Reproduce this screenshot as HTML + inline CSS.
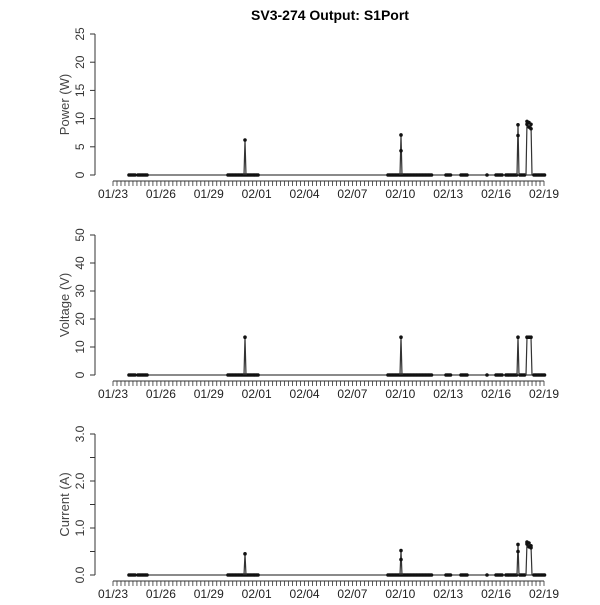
<!DOCTYPE html>
<html><head><meta charset="utf-8"><style>
body{margin:0;background:#fff}
svg text{font-family:"Liberation Sans",sans-serif}
</style></head><body>
<svg id="s" width="600" height="600" xmlns="http://www.w3.org/2000/svg">
<text x="330" y="20" font-size="14" font-weight="bold" text-anchor="middle">SV3-274 Output: S1Port</text>
</svg>
<script>
const s=document.getElementById('s');
const NS='http://www.w3.org/2000/svg';
function el(t,a,txt){const e=document.createElementNS(NS,t);for(const k in a)e.setAttribute(k,a[k]);if(txt!==undefined)e.textContent=txt;s.appendChild(e);return e;}
const panels=[
 {y0:175,y1:34,max:25,ticks:[0,5,10,15,20,25],lab:v=>String(v),minor:[],title:'Power (W)',ax:181,
  sp:[[518,[8.9,7.0]],[527,[9.5,9.0]],[529,[9.3,8.5]],[531,[9.0,8.2]]],s1:[[245,[6.2]],[401,[7.1,4.3]]]},
 {y0:375,y1:235,max:50,ticks:[0,10,20,30,40,50],lab:v=>String(v),minor:[],title:'Voltage (V)',ax:381,
  sp:[[518,[13.5]],[527,[13.5]],[529,[13.5]],[531,[13.5]]],s1:[[245,[13.5]],[401,[13.5]]]},
 {y0:575,y1:434,max:3,ticks:[0,1,2,3],lab:v=>v.toFixed(1),minor:[0.5,1.5,2.5],title:'Current (A)',ax:581,
  sp:[[518,[0.65,0.5]],[527,[0.7,0.66]],[529,[0.68,0.6]],[531,[0.62,0.58]]],s1:[[245,[0.45]],[401,[0.52,0.33]]]}
];
const segs=[[129,136],[138,147],[228,258],[388,432],[446,451],[461,468],[487,488],[496,502],[506,517],[520,525],[534,545]];
const dates=['01/23','01/26','01/29','02/01','02/04','02/07','02/10','02/13','02/16','02/19'];
panels.forEach(p=>{
 const Y=v=>p.y0+(p.y1-p.y0)*v/p.max;
 el('line',{x1:95,x2:95,y1:p.y0,y2:p.y1,stroke:'#333','stroke-width':1});
 p.ticks.concat(p.minor).forEach(v=>el('line',{x1:90,x2:95,y1:Y(v),y2:Y(v),stroke:'#333'}));
 p.ticks.forEach(v=>{const y=Y(v);el('text',{x:0,y:0,'font-size':12,fill:'#333','text-anchor':'middle',transform:`translate(84,${y}) rotate(-90)`},p.lab(v));});
 el('text',{x:0,y:0,'font-size':13,fill:'#444','text-anchor':'middle',transform:`translate(69,${(p.y0+p.y1)/2}) rotate(-90)`},p.title);
 el('line',{x1:113,x2:544,y1:p.ax,y2:p.ax,stroke:'#333'});
 for(let i=0;i<=108;i++){const x=113+i*431/108;el('line',{x1:x,x2:x,y1:p.ax,y2:p.ax+5,stroke:'#333','stroke-width':0.8});}
 dates.forEach((d,i)=>el('text',{x:113+i*431/9,y:p.ax+17,'font-size':12,fill:'#222','text-anchor':'middle'},d));
 el('line',{x1:129,x2:545,y1:p.y0,y2:p.y0,stroke:'#444','stroke-width':1.2});
 segs.forEach(([a,b])=>{for(let x=a;x<=b;x+=1.5)el('circle',{cx:x,cy:p.y0,r:1.8,fill:'#111'});});
 p.s1.forEach(([x,vs])=>{
  const top=Math.max(...vs);
  el('polyline',{points:`${x-1},${p.y0} ${x},${Y(top)} ${x+1},${p.y0}`,fill:'none',stroke:'#333','stroke-width':1.2});
  vs.forEach(v=>el('circle',{cx:x,cy:Y(v),r:1.8,fill:'#111'}));
 });
 // spike at 518
 const a=p.sp[0];
 el('polyline',{points:`517,${p.y0} 518,${Y(a[1][0])} 519,${p.y0}`,fill:'none',stroke:'#333','stroke-width':1.2});
 a[1].forEach(v=>el('circle',{cx:518,cy:Y(v),r:1.8,fill:'#111'}));
 // group 527-532
 let pts=`526,${p.y0} `;
 p.sp.slice(1).forEach(([x,vs])=>{pts+=`${x},${Y(vs[0])} `;});
 pts+=`532,${p.y0}`;
 el('polyline',{points:pts,fill:'none',stroke:'#333','stroke-width':1.2});
 p.sp.slice(1).forEach(([x,vs])=>vs.forEach(v=>el('circle',{cx:x,cy:Y(v),r:1.8,fill:'#111'})));
});
</script>
</body></html>
